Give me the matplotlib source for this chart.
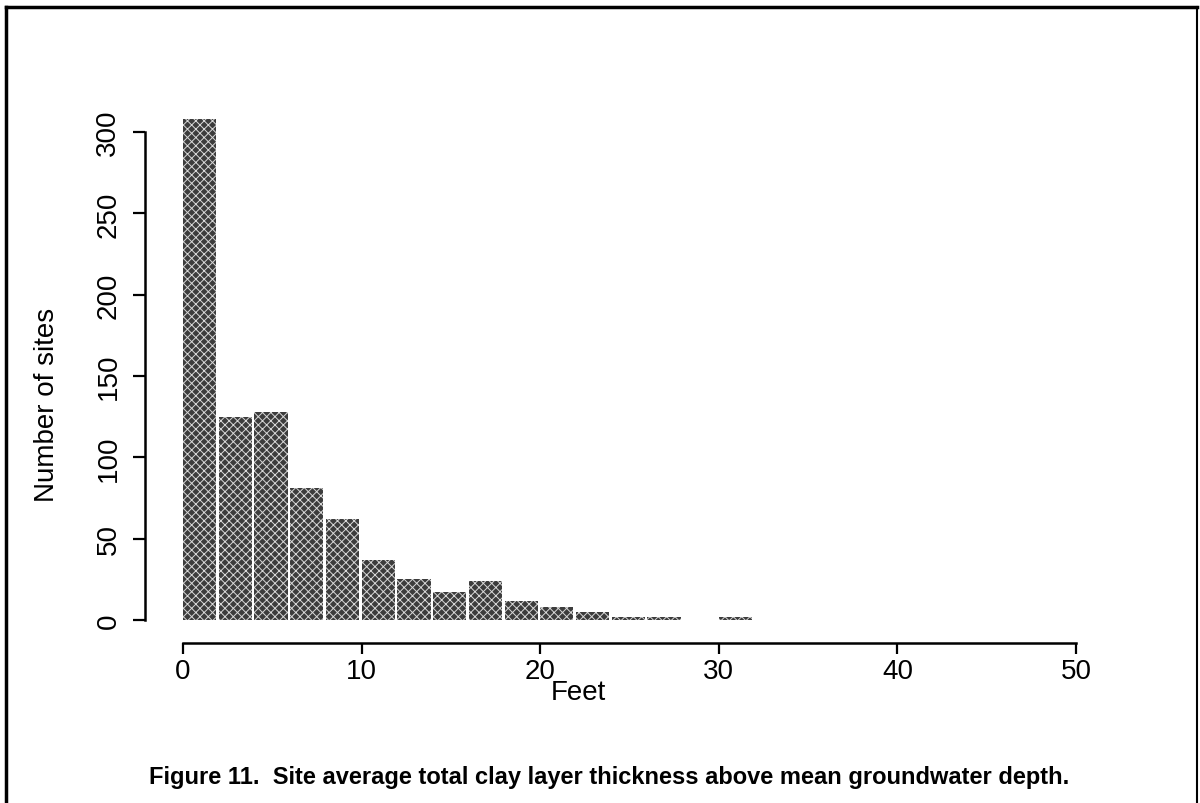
import matplotlib.pyplot as plt
from matplotlib.lines import Line2D

# histogram of clay layer thickness, 2 ft bins
bin_left = [0, 2, 4, 6, 8, 10, 12, 14, 16, 18, 20, 22, 24, 26, 28, 30]
counts = [308, 125, 128, 81, 62, 37, 25, 17, 24, 12, 8, 5, 2, 2, 0, 2]
x_ticks = [0, 10, 20, 30, 40, 50]
y_ticks = [0, 50, 100, 150, 200, 250, 300]

plt.rcParams['font.family'] = ['Liberation Sans', 'DejaVu Sans']
plt.rcParams['hatch.linewidth'] = 0.7

fig = plt.figure(figsize=(12, 8.04), dpi=100)
# axes box: x from 145 to 1076 px, y from 103 to 644 px
ax = fig.add_axes([145 / 1200, 1 - 644 / 804, 931 / 1200, 541 / 804])

ax.bar(bin_left, counts, width=1.86, align='edge', color='#3c3c3c', linewidth=0)
ax.bar(bin_left, counts, width=1.86, align='edge', facecolor='none',
       edgecolor='#d8d8d8', hatch='xxxx', linewidth=0)

ax.set_xlim(-2.13, 50)
ax.set_ylim(-14.1, 300 + 30 / 1.627)

for side in ['top', 'right']:
    ax.spines[side].set_visible(False)
ax.spines['left'].set_bounds(0, 300)
ax.spines['bottom'].set_bounds(0, 50)
ax.spines['left'].set_linewidth(1.8)
ax.spines['bottom'].set_linewidth(1.8)

ax.set_xticks(x_ticks)
ax.set_yticks(y_ticks)
ax.set_yticklabels([str(v) for v in y_ticks], rotation=90, va='center')
ax.tick_params(axis='x', length=8, width=1.6, labelsize=20, pad=3)
ax.tick_params(axis='y', length=9, width=1.6, labelsize=20, pad=8)

ax.set_xlabel('Feet', fontsize=20, labelpad=0)
ax.xaxis.set_label_coords(0.465, -0.07 * 511 / 541)
ax.set_ylabel('Number of sites', fontsize=20)
ax.yaxis.set_label_coords(-0.091, (644 - 405) / 541)

fig.text(0.5075, 1 - 778 / 804,
         'Figure 11.  Site average total clay layer thickness above mean groundwater depth.',
         ha='center', va='center', fontsize=17, fontweight='bold')

# frame round the figure
fig.add_artist(Line2D([6 / 1200, 6 / 1200], [0, 1 - 8 / 804], color='black', lw=2.5))
fig.add_artist(Line2D([6 / 1200, 1197 / 1200], [1 - 8 / 804, 1 - 8 / 804], color='black', lw=2.5))
fig.add_artist(Line2D([1197 / 1200, 1197 / 1200], [0, 1 - 8 / 804], color='black', lw=1.5))

fig.savefig('out.png', dpi=100)
